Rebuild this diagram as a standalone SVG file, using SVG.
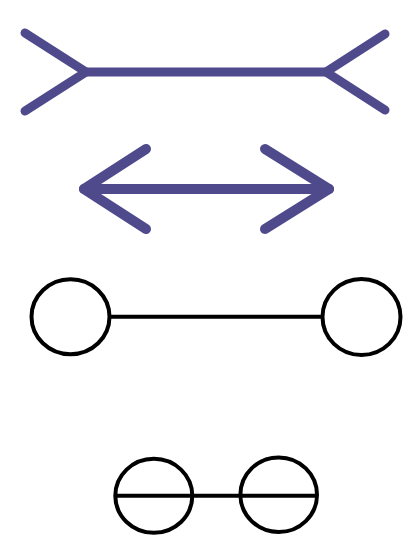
<svg xmlns="http://www.w3.org/2000/svg" width="418" height="548" viewBox="0 0 418 548">
<style>
.p{stroke:#4e4a8c;fill:none;stroke-linecap:round;stroke-linejoin:round}
.k{stroke:#000;fill:none;stroke-width:4}
</style>
<rect width="418" height="548" fill="#fff"/>
<g id="fins-out">
<path class="p" stroke-width="9" d="M25,33 L86,72 L25,111"/>
<path class="p" stroke-width="9" d="M385,34 L326,72 L385,110"/>
</g>
<g id="arrows-in">
<path class="p" stroke-width="10" d="M146,149 L84,189 L146,229"/>
<path class="p" stroke-width="10" d="M265,149 L329,189 L265,229"/>
</g>
<g id="circle-l1"><ellipse class="k" cx="70.5" cy="316.7" rx="39" ry="37.5"/></g>
<g id="circle-r1"><ellipse class="k" cx="361.5" cy="317" rx="39" ry="38"/></g>
<g id="circle-l2"><ellipse class="k" cx="153.8" cy="495.8" rx="38.5" ry="37"/></g>
<g id="circle-r2"><ellipse class="k" cx="278.7" cy="494.7" rx="38.3" ry="37.3"/></g>
<g id="connectors">
<line class="p" stroke-width="9" x1="86" y1="72" x2="326" y2="72"/>
<line class="p" stroke-width="10" x1="84" y1="189" x2="329" y2="189"/>
<line class="k" x1="109.5" y1="316.7" x2="322.5" y2="316.7"/>
<line class="k" x1="115.3" y1="495.7" x2="317" y2="495.7"/>
</g>
</svg>
